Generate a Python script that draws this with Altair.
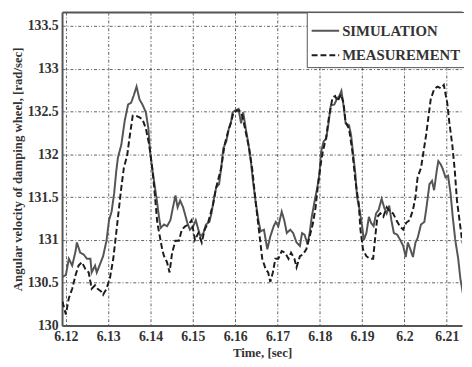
import altair as alt
import pandas as pd

sim_t = [6.1192, 6.1200, 6.1207, 6.1215, 6.1223, 6.1226, 6.1234, 6.1242, 6.1250, 6.1258,
         6.1261, 6.1269, 6.1273, 6.1281, 6.1288, 6.1296, 6.1302, 6.1308, 6.1314, 6.1319,
         6.1323, 6.1331, 6.1339, 6.1347, 6.1354, 6.1360, 6.1367, 6.1374, 6.1381, 6.1389,
         6.1395, 6.1399, 6.1405, 6.1410, 6.1415, 6.1420, 6.1424, 6.1432, 6.1439, 6.1447,
         6.1453, 6.1459, 6.1464, 6.1470, 6.1477, 6.1482, 6.1487, 6.1493, 6.1501, 6.1507,
         6.1513, 6.1518, 6.1525, 6.1531, 6.1539, 6.1544, 6.1549, 6.1555, 6.1562, 6.1567,
         6.1572, 6.1579, 6.1585, 6.1590, 6.1594, 6.1600, 6.1608, 6.1614, 6.1619, 6.1625,
         6.1631, 6.1637, 6.1642, 6.1648, 6.1655, 6.1660, 6.1668, 6.1676, 6.1683, 6.1691,
         6.1696, 6.1702, 6.1710, 6.1716, 6.1722, 6.1730, 6.1737, 6.1745, 6.1753, 6.1758,
         6.1764, 6.1771, 6.1776, 6.1781, 6.1788, 6.1794, 6.1799, 6.1803, 6.1809, 6.1815,
         6.1820, 6.1826, 6.1834, 6.1840, 6.1846, 6.1851, 6.1856, 6.1861, 6.1869, 6.1874,
         6.1879, 6.1884, 6.1888, 6.1894, 6.1900, 6.1904, 6.1910, 6.1916, 6.1921, 6.1927,
         6.1933, 6.1939, 6.1946, 6.1952, 6.1958, 6.1964, 6.1969, 6.1975, 6.1983, 6.1990,
         6.1997, 6.2003, 6.2008, 6.2014, 6.2020, 6.2026, 6.2031, 6.2039, 6.2047, 6.2052,
         6.2059, 6.2065, 6.2070, 6.2076, 6.2080, 6.2086, 6.2091, 6.2097, 6.2103, 6.2109,
         6.2114, 6.2120, 6.2127, 6.2132, 6.2140]
sim_v = [130.57, 130.59, 130.78, 130.70, 130.87, 130.97, 130.85, 130.83, 130.78, 130.78,
         130.62, 130.70, 130.62, 130.72, 130.81, 130.99, 131.23, 131.33, 131.54, 131.80,
         131.96, 132.11, 132.39, 132.58, 132.60, 132.68, 132.79, 132.64, 132.58, 132.49,
         132.30, 132.03, 131.80, 131.63, 131.46, 131.27, 131.14, 131.18, 131.16, 131.23,
         131.38, 131.52, 131.38, 131.46, 131.38, 131.29, 131.20, 131.12, 131.16, 131.23,
         131.12, 131.04, 131.08, 131.18, 131.21, 131.31, 131.46, 131.61, 131.65, 131.84,
         132.07, 132.15, 132.30, 132.37, 132.49, 132.51, 132.53, 132.36, 132.49, 132.30,
         132.13, 131.92, 131.69, 131.46, 131.23, 131.10, 131.12, 130.89, 131.04, 131.16,
         131.21, 131.16, 131.33, 131.23, 131.08, 131.12, 131.08, 130.97, 130.93, 131.08,
         131.06, 130.95, 131.08, 131.27, 131.46, 131.61, 131.77, 132.03, 132.15, 132.18,
         132.34, 132.57, 132.58, 132.64, 132.68, 132.74, 132.57, 132.36, 132.34, 132.22,
         131.99, 131.77, 131.50, 131.35, 131.16, 131.00, 131.08, 131.27, 131.20, 131.16,
         131.31, 131.35, 131.48, 131.38, 131.31, 131.40, 131.23, 131.08, 131.06, 131.00,
         130.93, 130.80, 130.97, 130.89, 130.80, 130.97, 131.02, 131.18, 131.21, 131.38,
         131.65, 131.69, 131.58, 131.80, 131.92, 131.88, 131.82, 131.73, 131.75, 131.54,
         131.27, 131.00, 130.78, 130.55, 130.32]

meas_t = [6.1192, 6.1200, 6.1207, 6.1215, 6.1223, 6.1230, 6.1238, 6.1246, 6.1254, 6.1261,
          6.1269, 6.1275, 6.1283, 6.1288, 6.1296, 6.1304, 6.1312, 6.1319, 6.1325, 6.1331,
          6.1337, 6.1345, 6.1350, 6.1358, 6.1366, 6.1374, 6.1381, 6.1389, 6.1397, 6.1405,
          6.1410, 6.1416, 6.1422, 6.1428, 6.1432, 6.1439, 6.1445, 6.1451, 6.1459, 6.1467,
          6.1474, 6.1482, 6.1490, 6.1497, 6.1505, 6.1513, 6.1521, 6.1528, 6.1536, 6.1548,
          6.1555, 6.1567, 6.1575, 6.1583, 6.1590, 6.1596, 6.1604, 6.1610, 6.1617, 6.1625,
          6.1633, 6.1641, 6.1648, 6.1656, 6.1664, 6.1672, 6.1678, 6.1683, 6.1689, 6.1695,
          6.1702, 6.1710, 6.1718, 6.1726, 6.1732, 6.1740, 6.1745, 6.1753, 6.1760, 6.1768,
          6.1776, 6.1784, 6.1790, 6.1795, 6.1802, 6.1807, 6.1815, 6.1822, 6.1830, 6.1836,
          6.1842, 6.1850, 6.1856, 6.1861, 6.1869, 6.1877, 6.1884, 6.1892, 6.1896, 6.1902,
          6.1910, 6.1918, 6.1926, 6.1931, 6.1936, 6.1943, 6.1950, 6.1958, 6.1966, 6.1973,
          6.1981, 6.1989, 6.1997, 6.2004, 6.2012, 6.2020, 6.2026, 6.2031, 6.2039, 6.2045,
          6.2051, 6.2057, 6.2062, 6.2070, 6.2078, 6.2086, 6.2093, 6.2101, 6.2106, 6.2113,
          6.2119, 6.2124, 6.2130, 6.2136, 6.2141]
meas_v = [130.28, 130.13, 130.32, 130.43, 130.59, 130.70, 130.74, 130.66, 130.62, 130.43,
          130.47, 130.43, 130.40, 130.36, 130.43, 130.55, 130.78, 131.08, 131.35, 131.61,
          131.84, 131.99, 132.18, 132.45, 132.45, 132.43, 132.41, 132.30, 132.11, 131.80,
          131.54, 131.20, 131.04, 130.88, 130.81, 130.74, 130.62, 130.85, 130.99, 130.99,
          131.12, 131.16, 131.18, 131.23, 131.00, 131.08, 130.97, 131.12, 131.20, 131.42,
          131.61, 131.84, 132.11, 132.26, 132.37, 132.49, 132.51, 132.51, 132.45, 132.26,
          132.07, 131.80, 131.46, 131.12, 130.78, 130.66, 130.62, 130.51, 130.62, 130.78,
          130.78, 130.87, 130.85, 130.78, 130.85, 130.78, 130.68, 130.81, 130.83, 130.89,
          131.04, 131.20, 131.38, 131.61, 131.88, 132.03, 132.20, 132.45, 132.66, 132.68,
          132.62, 132.70, 132.60, 132.37, 132.30, 132.03, 131.69, 131.42, 131.12, 130.89,
          130.81, 130.78, 130.78, 131.04, 131.27, 131.31, 131.27, 131.38, 131.33, 131.31,
          131.23, 131.16, 131.12, 131.20, 131.23, 131.35, 131.50, 131.73, 131.84, 132.03,
          132.22, 132.45, 132.64, 132.76, 132.79, 132.77, 132.81, 132.60, 132.37, 132.11,
          131.80, 131.46, 131.23, 131.00, 130.89]

series_names = ["SIMULATION", "MEASUREMENT"]
x_ticks = [6.12, 6.13, 6.14, 6.15, 6.16, 6.17, 6.18, 6.19, 6.20, 6.21]
y_ticks = [130, 130.5, 131, 131.5, 132, 132.5, 133, 133.5]

df = pd.concat([
    pd.DataFrame({"t": sim_t, "v": sim_v, "series": series_names[0]}),
    pd.DataFrame({"t": meas_t, "v": meas_v, "series": series_names[1]}),
])

FONT = "Liberation Serif"
xscale = alt.Scale(domain=[6.1191, 6.2136], nice=False, zero=False)
yscale = alt.Scale(domain=[130, 133.66], nice=False, zero=False)
y_title = "Angular velocity of damping wheel, [rad/sec]"
y_axis = alt.Axis(values=y_ticks, format="~g")

legend = alt.Legend(
    title=None, orient="none", legendX=249, legendY=0,
    symbolType="stroke", symbolSize=784, symbolStrokeWidth=2,
    labelFont=FONT, labelFontSize=15, labelFontWeight="bold", labelColor="#333",
    labelOffset=2, rowPadding=2,
    strokeColor="#555", fillColor="white", padding=4, cornerRadius=0,
)

lines = alt.Chart(df).mark_line(clip=True, strokeWidth=2).encode(
    x=alt.X("t:Q", scale=xscale, title="Time, [sec]",
            axis=alt.Axis(values=x_ticks, format="~g", orient="bottom")),
    y=alt.Y("v:Q", scale=yscale, title=y_title, axis=y_axis),
    color=alt.Color("series:N", scale=alt.Scale(domain=series_names, range=["#555555", "#1c1c1c"]),
                    legend=legend),
    strokeDash=alt.StrokeDash("series:N", scale=alt.Scale(domain=series_names, range=[[1, 0], [6, 3]]),
                              legend=legend),
    order=alt.Order("t:Q"),
)

top = alt.Chart(df).mark_line(clip=True, opacity=0).encode(
    x=alt.X("t:Q", scale=xscale,
            axis=alt.Axis(orient="top", labels=False, ticks=False, grid=False, domain=True, title=None)),
    y=alt.Y("v:Q", scale=yscale, title=y_title, axis=y_axis),
    detail="series:N",
)

chart = alt.layer(lines, top).resolve_axis(x="independent").properties(
    width=407, height=319,
    autosize=alt.AutoSizeParams(type="none"),
    padding={"left": 55, "top": 1, "right": 2, "bottom": 39},
).configure_view(stroke=None).configure_axis(
    grid=True, gridColor="#222", gridDash=[3, 2, 1, 2], gridWidth=0.8, gridOpacity=0.9,
    domainColor="#555", domainWidth=2, ticks=False,
    labelFont=FONT, labelFontSize=14, labelFontWeight="bold", labelColor="#333", labelPadding=4,
    titleFont=FONT, titleFontSize=13, titleFontWeight="bold", titleColor="#333",
).configure_axisX(titlePadding=3).configure_axisY(titlePadding=3)

chart.save("out.html", embed_options={"renderer": "svg", "actions": False})
